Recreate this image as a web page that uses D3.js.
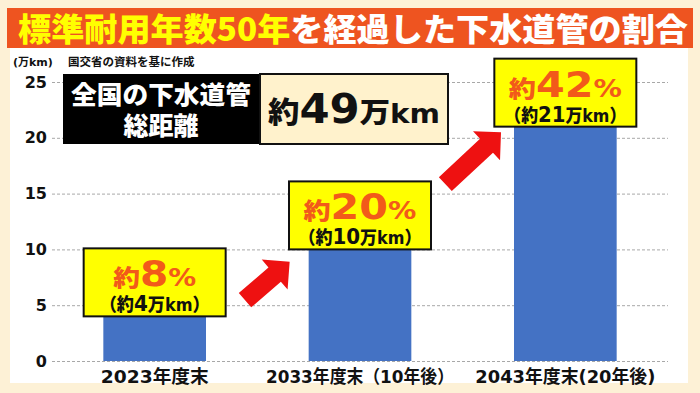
<!DOCTYPE html>
<html>
<head>
<meta charset="utf-8">
<script src="https://cdn.jsdelivr.net/npm/d3@7"></script>
<style>
  body { margin: 0; background: #fdf1d6; }
  text { font-family: "DejaVu Sans", "Noto Sans CJK JP", sans-serif; font-weight: 700; }
</style>
</head>
<body>
<div id="chart"></div>
<script>
// data
const categories = ["2023年度末", "2033年度末（10年後）", "2043年度末(20年後)"];
const lengths = [4, 10, 21];        // 万km
const shares = [8, 20, 42];         // %
const yTicks = [0, 5, 10, 15, 20, 25];
const totalLength = 49;             // 万km
const titleParts = ["標準耐用年数50年", "を経過した下水道管の割合"];
const unitLabel = "(万km)";
const sourceLabel = "国交省の資料を基に作成";

const W = 700, H = 393;
const margin = {top: 82, right: 32, bottom: 32, left: 52};

const svg = d3.select("#chart").append("svg")
    .attr("width", W)
    .attr("height", H);

// frame
svg.append("rect").attr("width", W).attr("height", H).attr("fill", "#fdf1d6");
svg.append("rect")
    .attr("x", 10).attr("y", 46).attr("width", 678).attr("height", 337)
    .attr("fill", "#ffffff");

// title bar
svg.append("rect")
    .attr("x", 7).attr("y", 8).attr("width", 686).attr("height", 40)
    .attr("fill", "#ee5420");
const title = svg.append("text")
    .attr("x", 18).attr("y", 41)
    .attr("font-size", 32)
    .attr("textLength", 670)
    .attr("lengthAdjust", "spacingAndGlyphs")
    .style("font-family", "'Noto Sans CJK JP', sans-serif")
    .style("font-weight", 900);
title.append("tspan").attr("fill", "#ffff00").text(titleParts[0]);
title.append("tspan").attr("fill", "#ffffff").text(titleParts[1]);

// scales
const x = d3.scaleBand()
    .domain(categories)
    .range([margin.left, W - margin.right])
    .paddingInner(0.5)
    .paddingOuter(0.25);

const y = d3.scaleLinear()
    .domain([0, 25])
    .range([H - margin.bottom, margin.top]);

// grid + y labels
const yAxis = svg.append("g")
    .attr("transform", `translate(${margin.left},0)`)
    .call(d3.axisLeft(y).tickValues(yTicks).tickSize(-(W - margin.left - margin.right)).tickPadding(5));
yAxis.select(".domain").remove();
yAxis.selectAll(".tick line")
    .attr("stroke", "#a8a8a8")
    .attr("stroke-dasharray", "3,2");
yAxis.selectAll(".tick text")
    .attr("fill", "#111")
    .attr("font-size", 16)
    .style("font-family", "'DejaVu Sans', sans-serif")
    .style("font-weight", 700);

svg.append("text")
    .attr("x", 13).attr("y", 66)
    .attr("font-size", 11)
    .attr("fill", "#111")
    .text(unitLabel);
svg.append("text")
    .attr("x", 68).attr("y", 66)
    .attr("font-size", 11.5)
    .attr("fill", "#111")
    .style("font-family", "'Noto Sans CJK JP', sans-serif")
    .text(sourceLabel);

// bars
svg.selectAll(".bar")
    .data(lengths)
    .enter().append("rect")
    .attr("class", "bar")
    .attr("x", (d, i) => x(categories[i]))
    .attr("y", d => y(d))
    .attr("width", x.bandwidth())
    .attr("height", d => y(0) - y(d))
    .attr("fill", "#4472c4");

// category labels
const catWidths = [108, 188, 180];
svg.selectAll(".cat")
    .data(categories)
    .enter().append("text")
    .attr("class", "cat")
    .attr("x", d => x(d) + x.bandwidth() / 2)
    .attr("y", H - margin.bottom + 22)
    .attr("text-anchor", "middle")
    .attr("font-size", 18)
    .attr("fill", "#111")
    .attr("textLength", (d, i) => catWidths[i])
    .attr("lengthAdjust", "spacingAndGlyphs")
    .text(d => d);

// arrows between the boxes
function arrowPath(x1, y1, x2, y2, sw, L) {
    const ang = Math.atan2(y2 - y1, x2 - x1);
    const len = Math.hypot(x2 - x1, y2 - y1);
    const hl = L / Math.SQRT2, hw = L * Math.SQRT2 / 2;
    const pts = [
        [0, -sw / 2], [len - hl, -sw / 2], [len - hl, -hw], [len, 0],
        [len - hl, hw], [len - hl, sw / 2], [0, sw / 2]
    ];
    const c = Math.cos(ang), s = Math.sin(ang);
    return "M" + pts.map(p => [x1 + p[0] * c - p[1] * s, y1 + p[0] * s + p[1] * c].join(",")).join("L") + "Z";
}
const arrowFrom = [5.45, 15.85];
const arrowTo = [8.9, 20.5];
const tailDx = [39, 34], tipDx = [-19, -13];
for (let i = 0; i < categories.length - 1; i++) {
    const x1 = x(categories[i]) + x.bandwidth() + tailDx[i];
    const x2 = x(categories[i + 1]) + tipDx[i];
    svg.append("path")
        .attr("d", arrowPath(x1, y(arrowFrom[i]), x2, y(arrowTo[i]), 19, 28))
        .attr("fill", "#ee1111");
}

// value boxes
const boxW = 142, boxH = 68;
const line1W = [83, 113, 113], line2W = [110, 123, 122];
const boxes = svg.selectAll(".vbox")
    .data(lengths)
    .enter().append("g")
    .attr("class", "vbox")
    .attr("transform", (d, i) => `translate(${x(categories[i]) + x.bandwidth() / 2 - boxW / 2},${y(d) - boxH})`);

boxes.append("rect")
    .attr("width", boxW).attr("height", boxH)
    .attr("fill", "#ffff00")
    .attr("stroke", "#111")
    .attr("stroke-width", 2);

const l1 = boxes.append("text")
    .attr("x", boxW / 2).attr("y", 38)
    .attr("text-anchor", "middle")
    .attr("fill", "#f25a1a")
    .attr("textLength", (d, i) => line1W[i])
    .attr("lengthAdjust", "spacingAndGlyphs");
l1.append("tspan").attr("font-size", 23).style("font-family", "'Noto Sans CJK JP', sans-serif").style("font-weight", 900).text("約");
l1.append("tspan").attr("font-size", 35).text((d, i) => shares[i]);
l1.append("tspan").attr("font-size", 24).text("%");

const l2 = boxes.append("text")
    .attr("x", boxW / 2).attr("y", 63)
    .attr("text-anchor", "middle")
    .attr("fill", "#111")
    .attr("textLength", (d, i) => line2W[i])
    .attr("lengthAdjust", "spacingAndGlyphs");
l2.append("tspan").attr("font-size", 18).style("font-family", "'Noto Sans CJK JP', sans-serif").style("font-weight", 900).text("（約");
l2.append("tspan").attr("font-size", 21).text(d => d);
l2.append("tspan").attr("font-size", 18).style("font-family", "'Noto Sans CJK JP', sans-serif").style("font-weight", 900).text("万");
l2.append("tspan").attr("font-size", 17).text("km");
l2.append("tspan").attr("font-size", 18).style("font-family", "'Noto Sans CJK JP', sans-serif").style("font-weight", 900).text("）");

// total length box
const tb = svg.append("g").attr("transform", "translate(63,74)");
tb.append("rect").attr("width", 197).attr("height", 70).attr("fill", "#000");
tb.append("rect").attr("x", 197).attr("width", 188).attr("height", 70)
    .attr("fill", "#fff2cc").attr("stroke", "#111").attr("stroke-width", 2);
tb.append("text")
    .attr("x", 98).attr("y", 30)
    .attr("text-anchor", "middle")
    .attr("font-size", 25)
    .attr("fill", "#fff")
    .attr("textLength", 180)
    .attr("lengthAdjust", "spacingAndGlyphs")
    .style("font-family", "'Noto Sans CJK JP', sans-serif")
    .style("font-weight", 900)
    .text("全国の下水道管");
tb.append("text")
    .attr("x", 98).attr("y", 61)
    .attr("text-anchor", "middle")
    .attr("font-size", 25)
    .attr("fill", "#fff")
    .style("font-family", "'Noto Sans CJK JP', sans-serif")
    .style("font-weight", 900)
    .text("総距離");
const tt = tb.append("text")
    .attr("x", 291).attr("y", 49)
    .attr("text-anchor", "middle")
    .attr("fill", "#111")
    .attr("textLength", 172)
    .attr("lengthAdjust", "spacingAndGlyphs");
tt.append("tspan").attr("font-size", 29).style("font-family", "'Noto Sans CJK JP', sans-serif").style("font-weight", 900).text("約");
tt.append("tspan").attr("font-size", 40).text(totalLength);
tt.append("tspan").attr("font-size", 28).style("font-family", "'Noto Sans CJK JP', sans-serif").style("font-weight", 900).text("万");
tt.append("tspan").attr("font-size", 27).text("km");
</script>
</body>
</html>
